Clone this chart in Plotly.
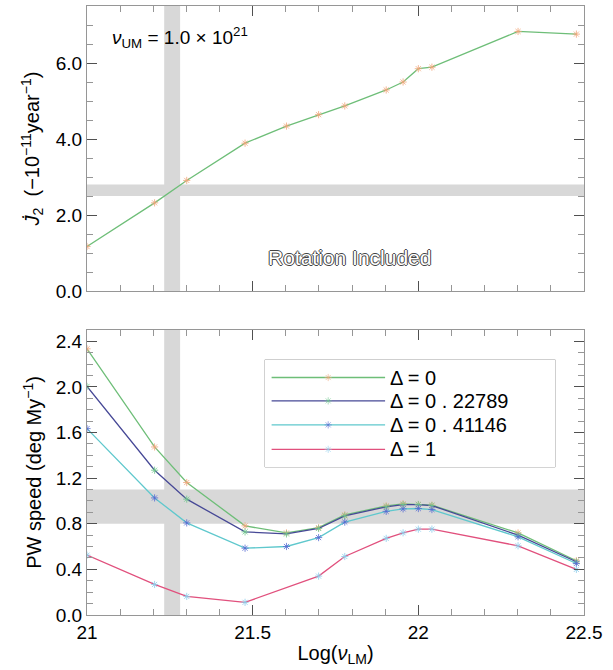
import plotly.graph_objects as go

# Lower-mantle viscosity, log10 of the viscosity in Pa s
log_visc = [21.0, 21.204, 21.301, 21.477, 21.602, 21.699, 21.778, 21.903, 21.954, 22.0, 22.041, 22.301, 22.477]
log_visc_d1 = [21.0, 21.204, 21.301, 21.477, 21.699, 21.778, 21.903, 21.954, 22.0, 22.041, 22.301, 22.477]

# J2-dot (rotation included), units of -1e-11 per year
j2_dot = [1.17, 2.32, 2.91, 3.89, 4.34, 4.64, 4.87, 5.29, 5.50, 5.85, 5.89, 6.83, 6.76]

# Polar wander speed (deg/My) for each Delta
pw_d0 = [2.335, 1.474, 1.162, 0.782, 0.720, 0.766, 0.878, 0.957, 0.975, 0.969, 0.963, 0.720, 0.476]
pw_d022789 = [2.005, 1.270, 1.016, 0.729, 0.711, 0.759, 0.870, 0.949, 0.969, 0.969, 0.960, 0.700, 0.467]
pw_d041146 = [1.635, 1.027, 0.808, 0.586, 0.601, 0.679, 0.815, 0.909, 0.931, 0.934, 0.925, 0.686, 0.452]
pw_d1 = [0.525, 0.268, 0.163, 0.111, 0.341, 0.513, 0.672, 0.721, 0.753, 0.753, 0.607, 0.400]

legend_labels = ["\u0394 = 0", "\u0394 = 0 . 22789", "\u0394 = 0 . 41146", "\u0394 = 1"]

# Observational constraint bands
visc_band = [21.233, 21.281]
j2_band = [2.5, 2.8]
pw_band = [0.8, 1.1]

FONT = "Liberation Sans, Arial, Helvetica, sans-serif"
BAND = "rgb(216,216,216)"

series = [
    (log_visc, pw_d0, "rgb(110,190,120)", "rgb(240,165,120)"),
    (log_visc, pw_d022789, "rgb(70,72,150)", "rgb(110,200,140)"),
    (log_visc, pw_d041146, "rgb(95,200,205)", "rgb(85,105,210)"),
    (log_visc_d1, pw_d1, "rgb(225,80,125)", "rgb(140,205,235)"),
]


def star(color, size=6):
    return dict(symbol="asterisk-open", size=size, color=color, line=dict(color=color, width=0.8))


fig = go.Figure()

fig.add_trace(go.Scatter(
    x=log_visc, y=j2_dot, mode="lines+markers", xaxis="x", yaxis="y",
    line=dict(color="rgb(110,190,120)", width=1.3),
    marker=star("rgb(240,165,120)"),
    showlegend=False, hoverinfo="x+y",
))

for xs, ys, lc, mc in series:
    fig.add_trace(go.Scatter(
        x=xs, y=ys, mode="lines+markers", xaxis="x2", yaxis="y2",
        line=dict(color=lc, width=1.3),
        marker=star(mc),
        showlegend=False, hoverinfo="x+y",
    ))

# Legend box drawn on its own unit axes inside the lower panel
row_y = [0.835, 0.617, 0.393, 0.165]
for (xs, ys, lc, mc), ry, lab in zip(series, row_y, legend_labels):
    m = star(mc)
    m["size"] = [0, 6, 0]
    fig.add_trace(go.Scatter(
        x=[0.023, 0.218, 0.414], y=[ry, ry, ry], mode="lines+markers",
        xaxis="x3", yaxis="y3",
        line=dict(color=lc, width=1.3),
        marker=m,
        showlegend=False, hoverinfo="skip",
    ))
    fig.add_annotation(
        x=0.424, y=ry, xref="x3", yref="y3", text=lab, showarrow=False,
        xanchor="left", yanchor="middle",
        font=dict(family=FONT, size=20, color="black"),
    )

axis_common = dict(
    showline=True, linecolor="rgb(150,150,150)", linewidth=1, mirror="allticks",
    ticks="inside", ticklen=10, tickwidth=1, tickcolor="rgb(80,80,80)",
    showgrid=False, zeroline=False,
    tickfont=dict(family=FONT, size=19, color="black"),
)
minor_common = dict(ticks="inside", ticklen=6, tickcolor="rgb(150,150,150)")

fig.update_layout(
    width=613, height=670,
    margin=dict(l=87, r=29, t=6, b=55),
    paper_bgcolor="white", plot_bgcolor="white",
    font=dict(family=FONT, color="black"),
    xaxis=dict(
        domain=[0, 1], anchor="y", range=[21, 22.5], showticklabels=False,
        dtick=0.5, tick0=21, minor=dict(dtick=0.1, **minor_common),
        **axis_common,
    ),
    yaxis=dict(
        domain=[0.532, 1], anchor="x", range=[0, 7.5], dtick=2, tick0=0, tickformat=".1f",
        minor=dict(dtick=0.5, **minor_common),
        title=dict(
            text="<i>J\u0307</i><sub>2</sub>  (\u221210<sup>\u221211</sup>year<sup>\u22121</sup>)",
            font=dict(family=FONT, size=20), standoff=10,
        ),
        **axis_common,
    ),
    xaxis2=dict(
        domain=[0, 1], anchor="y2", range=[21, 22.5], dtick=0.5, tick0=21,
        tickvals=[21, 21.5, 22, 22.5], ticktext=["21", "21.5", "22", "22.5"],
        minor=dict(dtick=0.1, **minor_common),
        title=dict(text="Log(<i>\u03bd</i><sub>LM</sub>)", font=dict(family=FONT, size=20), standoff=4),
        **axis_common,
    ),
    yaxis2=dict(
        domain=[0, 0.468], anchor="x2", range=[0, 2.5], dtick=0.4, tick0=0, tickformat=".1f",
        minor=dict(dtick=0.1, **minor_common),
        title=dict(text="PW speed (deg My<sup>\u22121</sup>)", font=dict(family=FONT, size=20), standoff=8),
        **axis_common,
    ),
    xaxis3=dict(domain=[0.358, 0.942], anchor="y3", range=[0, 1], visible=False, fixedrange=True),
    yaxis3=dict(domain=[0.243, 0.419], anchor="x3", range=[0, 1], visible=False, fixedrange=True),
)

# Constraint bands behind the curves
for xr, yr in (("x", "y domain"), ("x2", "y2 domain")):
    fig.add_shape(type="rect", xref=xr, yref=yr, x0=visc_band[0], x1=visc_band[1], y0=0, y1=1,
                  fillcolor=BAND, line=dict(width=0), layer="below")
fig.add_shape(type="rect", xref="x domain", yref="y", x0=0, x1=1, y0=j2_band[0], y1=j2_band[1],
              fillcolor=BAND, line=dict(width=0), layer="below")
fig.add_shape(type="rect", xref="x2 domain", yref="y2", x0=0, x1=1, y0=pw_band[0], y1=pw_band[1],
              fillcolor=BAND, line=dict(width=0), layer="below")

# Legend frame
fig.add_shape(type="rect", xref="x3 domain", yref="y3 domain", x0=0, x1=1, y0=0, y1=1,
              fillcolor="white", line=dict(color="rgb(170,170,170)", width=1), layer="below")

fig.add_annotation(
    x=0.046, y=0.891, xref="x domain", yref="y domain", xanchor="left", yanchor="middle",
    text="<i>\u03bd</i><sub>UM</sub> = 1.0 \u00d7 10<sup>21</sup>", showarrow=False,
    font=dict(family=FONT, size=19, color="black"),
)
fig.add_annotation(
    x=0.529, y=0.116, xref="x domain", yref="y domain", xanchor="center", yanchor="middle",
    text="Rotation Included", showarrow=False,
    font=dict(family=FONT, size=21, color="white",
              shadow="1px 0 0 #444, -1px 0 0 #444, 0 1px 0 #444, 0 -1px 0 #444"),
)

fig.write_html("out.html")
